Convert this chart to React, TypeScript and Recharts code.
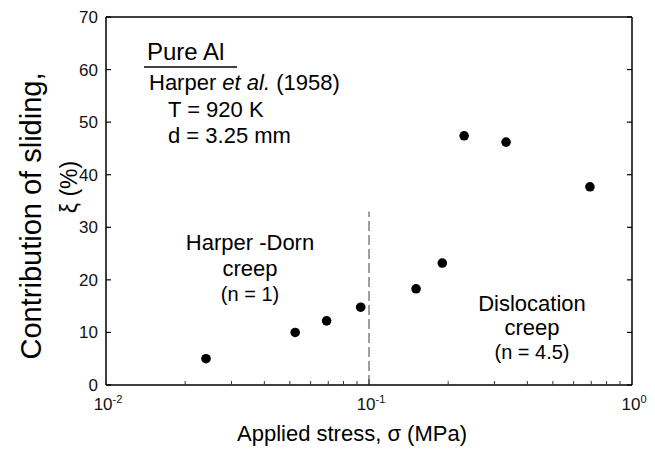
import { ReferenceLine, Scatter, ScatterChart, XAxis, YAxis } from "recharts";

// values
const stress = [0.024, 0.0524, 0.069, 0.093, 0.151, 0.19, 0.23, 0.332, 0.692];
const sliding = [5.0, 10.0, 12.2, 14.8, 18.3, 23.2, 47.4, 46.2, 37.7];

const xMajorTicks = [0.01, 0.1, 1];
const xMajorExponents = ["-2", "-1", "0"];
const xMinorTicks = [
  0.02, 0.03, 0.04, 0.05, 0.06, 0.07, 0.08, 0.09,
  0.2, 0.3, 0.4, 0.5, 0.6, 0.7, 0.8, 0.9,
];
const yTicks = [0, 10, 20, 30, 40, 50, 60, 70];

const boundaryStress = 0.1;
const boundaryTop = 33;

const points = stress.map((s, i) => ({ stress: s, sliding: sliding[i] }));
const allXTicks = [...xMajorTicks, ...xMinorTicks].sort((a, b) => a - b);

const W = 655;
const H = 449;
const FONT = "'Liberation Sans', Arial, Helvetica, sans-serif";

function BottomTick({ x, y, payload }: any) {
  const i = xMajorTicks.indexOf(payload.value);
  const major = i >= 0;
  return (
    <g>
      <line x1={x} x2={x} y1={y} y2={y - (major ? 6 : 4)} stroke="#333" strokeWidth={1} />
      {major && (
        <text x={x + 2} y={y + 25} textAnchor="middle" fontSize={17} fill="#111" fontFamily={FONT}>
          10
          <tspan dy={-7} fontSize={11}>
            {xMajorExponents[i]}
          </tspan>
        </text>
      )}
    </g>
  );
}

function TopTick({ x, y, payload }: any) {
  const major = xMajorTicks.includes(payload.value);
  return <line x1={x} x2={x} y1={y} y2={y + (major ? 6 : 4)} stroke="#333" strokeWidth={1} />;
}

function LeftTick({ x, y, payload }: any) {
  return (
    <g>
      <line x1={x} x2={x + 5} y1={y} y2={y} stroke="#000" strokeWidth={1.2} />
      <text x={x - 8} y={y + 6} textAnchor="end" fontSize={17} fill="#111" fontFamily={FONT}>
        {payload.value}
      </text>
    </g>
  );
}

function RightTick({ x, y }: any) {
  return <line x1={x} x2={x - 5} y1={y} y2={y} stroke="#000" strokeWidth={1.2} />;
}

function Dot({ cx, cy }: any) {
  return <circle cx={cx} cy={cy} r={4.8} fill="#000" />;
}

function Annotations() {
  const t = { fontFamily: FONT, fill: "#000" } as const;
  return (
    <svg
      width={W}
      height={H}
      style={{ position: "absolute", left: 0, top: 0, pointerEvents: "none" }}
    >
      <text {...t} x={147} y={60} fontSize={24}>Pure Al</text>
      <line x1={144} x2={237} y1={67} y2={67} stroke="#000" strokeWidth={1.5} />
      <text {...t} x={149} y={90} fontSize={22}>
        Harper <tspan fontStyle="italic">et al.</tspan> (1958)
      </text>
      <text {...t} x={168} y={117} fontSize={22}>T = 920 K</text>
      <text {...t} x={168} y={143} fontSize={22}>d = 3.25 mm</text>

      <text {...t} x={250} y={250} fontSize={22} textAnchor="middle">Harper -Dorn</text>
      <text {...t} x={250} y={276} fontSize={22} textAnchor="middle">creep</text>
      <text {...t} x={250} y={301} fontSize={20} textAnchor="middle">(n = 1)</text>

      <text {...t} x={532} y={311} fontSize={22} textAnchor="middle">Dislocation</text>
      <text {...t} x={532} y={335} fontSize={22} textAnchor="middle">creep</text>
      <text {...t} x={532} y={359} fontSize={20} textAnchor="middle">(n = 4.5)</text>

      <text {...t} x={352} y={441} fontSize={22} textAnchor="middle">
        Applied stress, σ (MPa)
      </text>
      <text {...t} fontSize={29} textAnchor="middle" transform="translate(41,216) rotate(-90)">
        Contribution of sliding,
      </text>
      <text {...t} fontSize={23} textAnchor="middle" transform="translate(77,187) rotate(-90)">
        ξ (%)
      </text>
    </svg>
  );
}

export default function App() {
  return (
    <div style={{ position: "fixed", left: 0, top: 0, width: W, height: H, background: "#fff" }}>
      <ScatterChart width={W} height={H} margin={{ top: 12, right: 18, bottom: 34, left: 46 }}>
        <XAxis
          dataKey="stress"
          type="number"
          scale="log"
          domain={[0.01, 1]}
          allowDataOverflow
          ticks={allXTicks}
          interval={0}
          height={30}
          tickSize={0}
          tickMargin={0}
          tick={<BottomTick />}
          tickLine={false}
          axisLine={{ stroke: "#000", strokeWidth: 1.5 }}
        />
        <XAxis
          xAxisId="top"
          orientation="top"
          type="number"
          scale="log"
          domain={[0.01, 1]}
          allowDataOverflow
          ticks={allXTicks}
          interval={0}
          height={5}
          tickSize={0}
          tickMargin={0}
          tick={<TopTick />}
          tickLine={false}
          axisLine={{ stroke: "#000", strokeWidth: 1.5 }}
        />
        <YAxis
          dataKey="sliding"
          type="number"
          domain={[0, 70]}
          allowDataOverflow
          ticks={yTicks}
          interval={0}
          width={60}
          tickSize={0}
          tickMargin={0}
          tick={<LeftTick />}
          tickLine={false}
          axisLine={{ stroke: "#000", strokeWidth: 1.5 }}
        />
        <YAxis
          yAxisId="right"
          orientation="right"
          type="number"
          domain={[0, 70]}
          allowDataOverflow
          ticks={yTicks}
          interval={0}
          width={5}
          tickSize={0}
          tickMargin={0}
          tick={<RightTick />}
          tickLine={false}
          axisLine={{ stroke: "#000", strokeWidth: 1.5 }}
        />
        <ReferenceLine
          segment={[
            { x: boundaryStress, y: 0 },
            { x: boundaryStress, y: boundaryTop },
          ]}
          stroke="#7f7f7f"
          strokeWidth={1.5}
          strokeDasharray="10 4"
        />
        <Scatter data={points} shape={<Dot />} isAnimationActive={false} />
      </ScatterChart>
      <Annotations />
    </div>
  );
}
